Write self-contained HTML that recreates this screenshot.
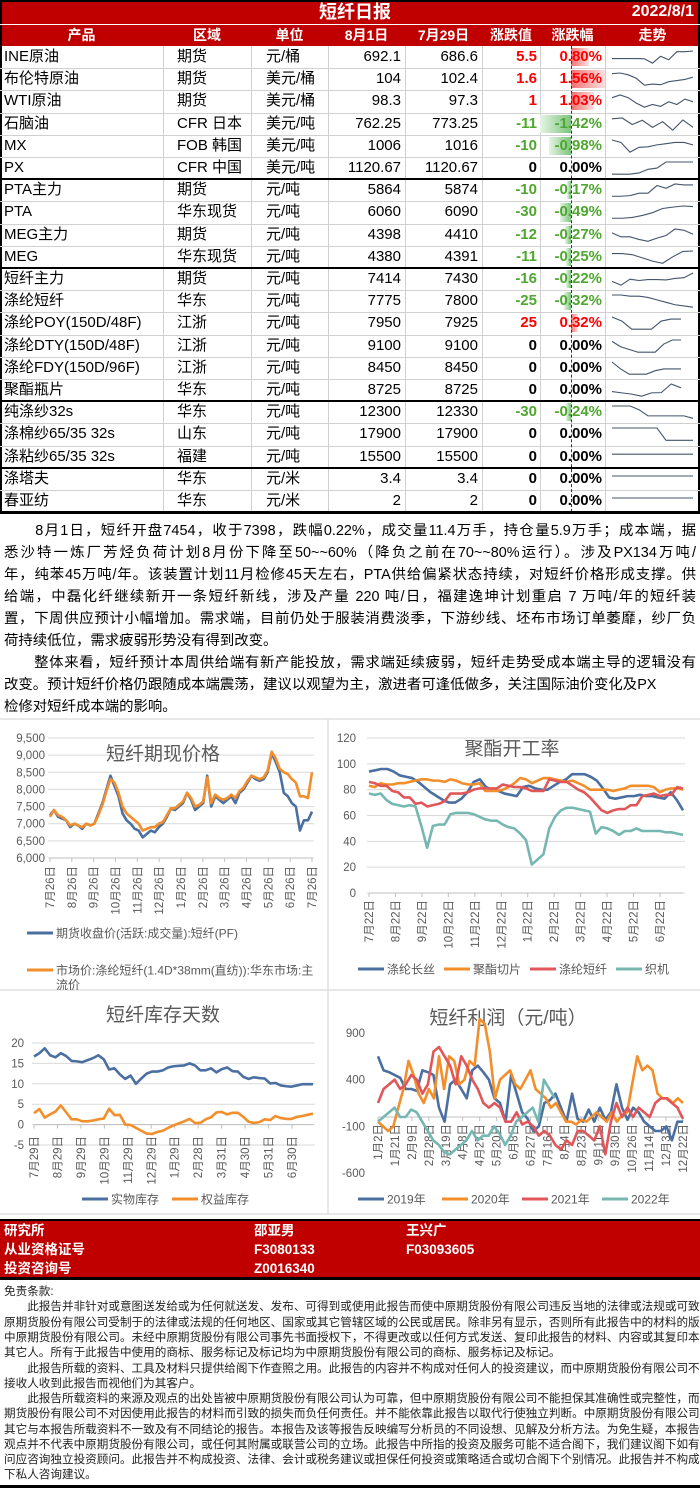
<!DOCTYPE html>
<html><head><meta charset="utf-8">
<style>
*{margin:0;padding:0;box-sizing:border-box}
body{width:700px;height:1488px;position:relative;background:#fff;font-family:"Liberation Sans","Noto Sans CJK SC",sans-serif;overflow:hidden;color:#000}
.abs{position:absolute}
.cell{position:absolute;white-space:nowrap;font-size:15px;line-height:22px}
.hdr{position:absolute;color:#fff;font-weight:bold;font-size:14px;line-height:22px;white-space:nowrap;text-align:center}
.pl{position:absolute;left:4px;width:692px;font-size:14.4px;line-height:22px;white-space:nowrap;text-align:justify;text-align-last:justify;color:#000}
.pl.l{text-align-last:left}
.dl{position:absolute;left:4px;width:692px;font-size:11.6px;line-height:15.25px;white-space:nowrap;text-align:justify;text-align-last:justify;color:#222}
.dl.l{text-align-last:left}
.ft{position:absolute;color:#fff;font-weight:bold;font-size:13.5px;line-height:19px;white-space:nowrap}
</style></head><body>
<div class="abs" style="left:0;top:0;width:700px;height:46px;background:#c00000;border:2px solid #000;border-bottom:none"></div>
<div class="abs" style="left:0;top:1px;width:700px;text-align:center;color:#fff;font-weight:bold;font-size:18px;line-height:22px;padding-left:10px">短纤日报</div>
<div class="abs" style="right:6px;top:1px;color:#fff;font-weight:bold;font-size:16px;line-height:22px">2022/8/1</div>
<div class="abs" style="left:0;top:24px;width:700px;height:1px;background:#fff"></div>
<div id="tbl"></div>

<div>
<div class="pl" style="top:520px">　　8月1日，短纤开盘7454，收于7398，跌幅0.22%，成交量11.4万手，持仓量5.9万手；成本端，据</div>
<div class="pl" style="top:542px">悉沙特一炼厂芳烃负荷计划8月份下降至50~~60%（降负之前在70~~80%运行）。涉及PX134万吨/</div>
<div class="pl" style="top:564px">年，纯苯45万吨/年。该装置计划11月检修45天左右，PTA供给偏紧状态持续，对短纤价格形成支撑。供</div>
<div class="pl" style="top:586px">给端，中磊化纤继续新开一条短纤新线，涉及产量 220 吨/日，福建逸坤计划重启 7 万吨/年的短纤装</div>
<div class="pl" style="top:608px">置，下周供应预计小幅增加。需求端，目前仍处于服装消费淡季，下游纱线、坯布市场订单萎靡，纱厂负</div>
<div class="pl l" style="top:630px">荷持续低位，需求疲弱形势没有得到改变。</div>
<div class="pl" style="top:652px">　　整体来看，短纤预计本周供给端有新产能投放，需求端延续疲弱，短纤走势受成本端主导的逻辑没有</div>
<div class="pl l" style="top:674px">改变。预计短纤价格仍跟随成本端震荡，建议以观望为主，激进者可逢低做多，关注国际油价变化及PX</div>
<div class="pl l" style="top:696px">检修对短纤成本端的影响。</div>
</div>

<svg id="ch" class="abs" style="left:0;top:0" width="700" height="1488"></svg>

<div class="abs" style="left:0;top:1219px;width:700px;height:61px;background:#c00000;border-top:2px solid #000;border-bottom:3px solid #000"></div>
<div class="ft" style="left:4px;top:1221px">研究所</div>
<div class="ft" style="left:254px;top:1221px">邵亚男</div>
<div class="ft" style="left:406px;top:1221px">王兴广</div>
<div class="ft" style="left:4px;top:1240px">从业资格证号</div>
<div class="ft" style="left:254px;top:1240px">F3080133</div>
<div class="ft" style="left:406px;top:1240px">F03093605</div>
<div class="ft" style="left:4px;top:1259px">投资咨询号</div>
<div class="ft" style="left:254px;top:1259px">Z0016340</div>

<div>
<div class="dl l" style="top:1284px">免责条款:</div>
<div class="dl" style="top:1299px">　　此报告并非针对或意图送发给或为任何就送发、发布、可得到或使用此报告而使中原期货股份有限公司违反当地的法律或法规或可致使中</div>
<div class="dl" style="top:1314.5px">原期货股份有限公司受制于的法律或法规的任何地区、国家或其它管辖区域的公民或居民。除非另有显示，否则所有此报告中的材料的版权均属</div>
<div class="dl" style="top:1330px">中原期货股份有限公司。未经中原期货股份有限公司事先书面授权下，不得更改或以任何方式发送、复印此报告的材料、内容或其复印本予任何</div>
<div class="dl l" style="top:1345px">其它人。所有于此报告中使用的商标、服务标记及标记均为中原期货股份有限公司的商标、服务标记及标记。</div>
<div class="dl" style="top:1360.5px">　　此报告所载的资料、工具及材料只提供给阁下作查照之用。此报告的内容并不构成对任何人的投资建议，而中原期货股份有限公司不会因</div>
<div class="dl l" style="top:1375.5px">接收人收到此报告而视他们为其客户。</div>
<div class="dl" style="top:1391px">　　此报告所载资料的来源及观点的出处皆被中原期货股份有限公司认为可靠，但中原期货股份有限公司不能担保其准确性或完整性，而中原</div>
<div class="dl" style="top:1406px">期货股份有限公司不对因使用此报告的材料而引致的损失而负任何责任。并不能依靠此报告以取代行使独立判断。中原期货股份有限公司可发出</div>
<div class="dl" style="top:1421.5px">其它与本报告所载资料不一致及有不同结论的报告。本报告及该等报告反映编写分析员的不同设想、见解及分析方法。为免生疑，本报告所载的</div>
<div class="dl" style="top:1436.5px">观点并不代表中原期货股份有限公司，或任何其附属或联营公司的立场。此报告中所指的投资及服务可能不适合阁下，我们建议阁下如有任何疑</div>
<div class="dl" style="top:1452px">问应咨询独立投资顾问。此报告并不构成投资、法律、会计或税务建议或担保任何投资或策略适合或切合阁下个别情况。此报告并不构成给予阁</div>
<div class="dl l" style="top:1467px">下私人咨询建议。</div>
</div>
<div class="abs" style="left:0;top:1485px;width:700px;height:3px;background:#000"></div>

<script>
// ---------- table data ----------
const products=["INE原油","布伦特原油","WTI原油","石脑油","MX","PX","PTA主力","PTA","MEG主力","MEG","短纤主力","涤纶短纤","涤纶POY(150D/48F)","涤纶DTY(150D/48F)","涤纶FDY(150D/96F)","聚酯瓶片","纯涤纱32s","涤棉纱65/35 32s","涤粘纱65/35 32s","涤塔夫","春亚纺"];
const regions=["期货","期货","期货","CFR 日本","FOB 韩国","CFR 中国","期货","华东现货","期货","华东现货","期货","华东","江浙","江浙","江浙","华东","华东","山东","福建","华东","华东"];
const units=["元/桶","美元/桶","美元/桶","美元/吨","美元/吨","美元/吨","元/吨","元/吨","元/吨","元/吨","元/吨","元/吨","元/吨","元/吨","元/吨","元/吨","元/吨","元/吨","元/吨","元/米","元/米"];
const todayVals=["692.1","104","98.3","762.25","1006","1120.67","5864","6060","4398","4380","7414","7775","7950","9100","8450","8725","12300","17900","15500","3.4","2"];
const prevVals=["686.6","102.4","97.3","773.25","1016","1120.67","5874","6090","4410","4391","7430","7800","7925","9100","8450","8725","12330","17900","15500","3.4","2"];
const changes=[5.5,1.6,1,-11,-10,0,-10,-30,-12,-11,-16,-25,25,0,0,0,-30,0,0,0,0];
const pcts=[0.80,1.56,1.03,-1.42,-0.98,0,-0.17,-0.49,-0.27,-0.25,-0.22,-0.32,0.32,0,0,0,-0.24,0,0,0,0];
const sparks=[
[5,5,5,5,4.9,3,6,4.5,8,8,8.3],
[8,8.3,7.5,6,3,3.5,3.2,4.5,5,5.5,6.5],
[6,7,6,4,2.5,3.5,2.8,4.5,3.5,5.5,4.5],
[6,6.3,4,5.5,3,5,2,5.6,3],
[7,6,2,4,4.2,5,5.5,6,6,5],
[1,1,1,1.5,3,3.5,6,6,6,6],
[2,2,2.2,3,3,5.5,4.6,6,5.7,5.7],
[2,2,2.3,3,4,5.5,6,6.4,6.2],
[5,3.5,3.5,2.5,1.8,3,4,6.5,6,4.5],
[6,6,5.5,4,2.5,1.5,4.5,7,7.2],
[4,2,5.2,4.5,5,5,4.8,5.6,6,8.5],
[7,7,6.5,6.5,6,5,4,3,2.5,2],
[6,5,3,3,3,5,5.5,5.5],
[6,4,3,2,2,2,5,6.5,6.5],
[6,4,2.5,2.5,2.5,3.5,4,4,4],
[4,3.5,3,2.2,3.5,3.6,7,5.5],
[7,7,7,5.5,3,3,3,3,3,2],
[7,7,7,7,7,7,2,2,2,2],
[5,5,5,5,5,5,5,5,5,5],
[5,5,5,5,5,5,5,5,5,5],
[5,5,5,5,5,5,5,5,5,5]];
const groups=[[46,179,6],[179,268,4],[268,401,6],[401,468,3],[468,512,2]];

const headers=["产品","区域","单位","8月1日","7月29日","涨跌值","涨跌幅","走势"];
const colX=[0,163,251,328,405,482,540,605,700];
const tbl=document.getElementById('tbl');
function div(css,txt){const d=document.createElement('div');d.style.cssText=css;if(txt!==undefined)d.textContent=txt;tbl.appendChild(d);return d;}
headers.forEach((h,i)=>{
  const d=div(`left:${colX[i]}px;top:24px;width:${colX[i+1]-colX[i]}px;`,h);
  d.className='hdr';
  
  
});
// body background borders
const bg=div('position:absolute;left:0;top:46px;width:700px;height:468px;border-left:2px solid #000;border-right:2px solid #000;');


for(let c=1;c<8;c++){
  const v=div(`position:absolute;left:${colX[c]}px;top:46px;width:1px;height:466px;background:#d0d0d0`);
  
  
}
const dash=div('position:absolute;left:571px;top:46px;width:0;height:466px;border-left:1px dashed #333;z-index:2');


let r=0;
groups.forEach(([y0,y1,n],gi)=>{
  const h=(y1-y0)/n;
  const gl=div(`position:absolute;left:0;top:${y1-1}px;width:700px;height:${gi==4?3:2}px;background:#000;z-index:3`);
  
  
  for(let k=0;k<n;k++,r++){
    const top=y0+k*h;
    if(k>0){const hl=div(`position:absolute;left:0;top:${top}px;width:700px;height:1px;background:#d0d0d0`);
      
      }
    const row=div(`position:absolute;left:0;top:${top}px;width:700px;height:${h}px`);
    
    
    const p=pcts[r];
    if(p!==0){
      const w=Math.abs(p)*22;
      const bar=document.createElement('div');
      bar.style.cssText=p>0?`position:absolute;left:571px;top:2px;width:${w}px;height:${h-4}px;background:linear-gradient(to right,#f07070,#fde0e0)`:`position:absolute;left:${571-w}px;top:2px;width:${w}px;height:${h-4}px;background:linear-gradient(to left,#7bc47b,#e5f4e5)`;
      
      
      row.appendChild(bar);
    }
    const col=changes[r]>0?'#ff0000':(changes[r]<0?'#4ea72e':'#000');
    const cells=[
      [`left:4px;`,products[r],''],
      [`left:177px;`,regions[r],''],
      [`left:266px;`,units[r],''],
      [`right:${700-401}px;`,todayVals[r],''],
      [`right:${700-478}px;`,prevVals[r],''],
      [`right:${700-537}px;font-weight:bold;color:${col};`,String(changes[r]),''],
      [`right:${700-602}px;font-weight:bold;color:${col};`,p.toFixed(2)+'%','']];
    const names=['product','region','unit','value-today','value-prev','change','change-pct'];
    cells.forEach((c,ci)=>{
      const e=document.createElement('div');
      e.className='cell';
      e.style.cssText=c[0]+`top:${(h-22)/2}px;z-index:3`;
      e.textContent=c[1];
      
      
      row.appendChild(e);
    });
    // sparkline
    const s=sparks[r];const mn=Math.min(...s),mx=Math.max(...s);
    const ns='http://www.w3.org/2000/svg';
    const sv=document.createElementNS(ns,'svg');
    sv.setAttribute('width','90');sv.setAttribute('height',String(h));
    sv.style.cssText='position:absolute;left:609px;top:0';
    
    
    const pl=document.createElementNS(ns,'polyline');
    const end=(r>=12&&r<=15)?72:84;
    pl.setAttribute('points',s.map((v,i)=>`${3+(end-3)*i/(s.length-1)},${mx==mn?h/2-3:h-5-(h-10)*(v-mn)/(mx-mn)}`).join(' '));
    pl.setAttribute('fill','none');pl.setAttribute('stroke','#44546a');pl.setAttribute('stroke-width','1.1');
    
    
    sv.appendChild(pl);row.appendChild(sv);
  }
});

// ---------- chart data ----------
const pfFutures=[7250,7400,7200,7150,7100,6900,7000,6950,6850,7000,6950,7000,7300,7600,8000,8400,8100,7800,7300,7100,7000,6850,6800,6600,6700,6800,6750,6900,7000,7200,7450,7400,7500,7600,7900,7700,7400,7500,7600,8400,7500,7800,7700,7600,7700,7800,7600,7900,8000,8200,8400,8300,8250,8300,8500,9050,8800,8500,7900,7800,7600,7500,6800,7100,7100,7350];
const pfSpot=[7200,7400,7250,7200,7100,6950,7000,6950,6900,7000,6950,7000,7250,7550,7950,8300,8200,7900,7500,7300,7200,7100,7000,6800,6850,6900,6900,7000,7050,7250,7450,7450,7550,7650,7900,7750,7500,7550,7650,8350,7600,7850,7750,7700,7750,7850,7750,7950,8050,8250,8400,8350,8300,8350,8550,9100,8900,8600,8500,8450,8300,8200,7800,7800,7750,8500];
const pfTicks=[9500,9000,8500,8000,7500,7000,6500,6000];
const pfLabels=["7月26日","8月26日","9月26日","10月26日","11月26日","12月26日","1月26日","2月26日","3月26日","4月26日","5月26日","6月26日","7月26日"];

const opFilament=[94,95,96,96,94,91,90,89,86,82,78,75,72,70,70,73,78,86,88,82,80,79,77,76,75,82,83,81,80,80,83,86,88,92,92,92,90,87,81,74,73,74,75,75,76,75,75,74,73,78,72,64];
const opChip=[83,82,85,84,84,85,85,86,87,88,88,87,87,86,88,87,85,84,84,85,79,79,79,80,82,85,89,88,85,87,89,89,88,87,86,87,85,83,80,80,80,80,79,80,81,83,83,83,83,82,78,80,81,81,80];
const opStaple=[86,85,83,83,79,78,74,74,69,70,67,68,69,71,77,77,77,78,80,81,81,81,81,84,83,82,82,81,79,79,79,88,87,86,86,83,80,78,74,69,64,62,64,65,65,68,68,75,76,77,75,76,76,82,81];
const opLoom=[77,76,77,72,69,68,67,68,67,52,35,52,53,53,61,62,62,62,61,59,57,56,56,53,51,50,46,41,22,26,30,50,59,64,66,66,65,64,63,46,51,50,48,45,48,48,50,48,48,48,48,47,47,46,45];
const opTicks=[120,100,80,60,40,20,0];
const opLabels=["7月22日","8月22日","9月22日","10月22日","11月22日","12月22日","1月22日","2月22日","3月22日","4月22日","5月22日","6月22日"];

const invPhysical=[16.7,17.5,18.7,17,16.5,17.5,16.8,15.6,15.5,15.3,15.8,16.3,17,16,13.5,13.8,12.3,11.2,12,10,11.3,12.5,13,13,13.3,14,14.3,14.4,14.5,15,14.5,13.3,13.3,13.8,12.8,13.6,14,13.1,13,11.7,11.2,11.6,11.4,11.3,10.1,10.2,9.6,9.4,9.3,9.6,9.9,9.9,9.9];
const invEquity=[2.8,3.8,1.7,2.5,3.2,4.7,3,1.3,1.3,0.8,0.8,1,1.3,1.5,3.9,2.3,2.4,0,-0.1,-0.8,-1.5,-2.2,-2.3,-1.8,-1.5,-0.8,-0.2,0.3,0.8,1.4,0.4,0.4,1.3,1.8,3,3.1,2.5,2.9,2.9,1.9,0.7,0.4,0.6,1.3,1.1,2.1,1.6,1.4,1.4,1.9,2.1,2.4,2.7];
const invTicks=[20,15,10,5,0,-5];
const invLabels=["7月29日","8月29日","9月29日","10月29日","11月29日","12月29日","1月29日","2月28日","3月31日","4月30日","5月31日","6月30日"];

const pr2019=[650,500,480,450,420,300,300,280,500,480,450,100,-50,350,400,300,200,500,550,480,400,200,150,-50,450,250,50,-20,-150,-100,150,180,250,100,-50,250,-20,-50,80,-50,100,-30,50,350,100,-30,100,50,-50,-100,-150,-150,-100,-250,-50,-50];
const pr2020=[-50,-100,-150,-100,100,300,600,450,250,150,300,200,650,300,650,600,350,400,600,550,1050,1000,700,200,400,450,500,350,300,400,500,300,250,200,100,150,50,-50,-50,-80,-30,-50,0,50,0,-50,50,-50,20,50,350,650,500,550,500,250,200,200,150,200,150];
const pr2021=[150,300,350,400,300,350,450,400,250,350,700,750,650,550,350,650,550,400,300,150,100,150,100,-50,-50,50,-80,-50,-100,-200,-150,-200,-300,-350,-250,-300,-150,-150,-200,-250,-100,-400,-50,150,0,100,0,100,50,0,150,200,200,150,100,-20];
const pr2022=[-50,0,50,100,0,0,80,50,-50,-150,-250,-300,-380,-400,-350,-300,-250,-150,-250,-200,-200,-100,-180,-300,-200,-50,0,50,100,-50,400,300,200];
const prTicks=[900,400,-100,-600];
const prLabels=["1月2日","1月21日","2月9日","2月28日","3月19日","4月8日","4月27日","5月20日","6月8日","6月27日","7月16日","8月4日","8月23日","9月11日","9月30日","10月26日","11月14日","12月3日","12月22日"];

const NS='http://www.w3.org/2000/svg';
const svg=document.getElementById('ch');
function el(tag,attrs,txt){const e=document.createElementNS(NS,tag);for(const k in attrs)e.setAttribute(k,attrs[k]);if(txt!==undefined)e.textContent=txt;svg.appendChild(e);return e;}
const GRAY='#595959',FONT='"Liberation Sans","Noto Sans CJK SC",sans-serif';
function yS(v,c){return c.y0+(c.y1-c.y0)*(c.vmax-v)/(c.vmax-c.vmin);}
function xS(i,n,c,frac){return c.x0+(c.x1-c.x0)*(frac||1)*i/(n-1);}
function series(data,c,color,name,frac){
  const p=el('polyline',{points:data.map((v,i)=>xS(i,data.length,c,frac)+','+yS(v,c)).join(' '),fill:'none',stroke:color,'stroke-width':2.6,'stroke-linejoin':'round'});
  
  
}
function yAxis(ticks,c,tx,grid,fmt){
  ticks.forEach(t=>{
    if(grid){const g=el('line',{x1:c.x0-2,x2:c.x1+2,y1:yS(t,c),y2:yS(t,c),stroke:'#d9d9d9','stroke-width':1});
      
      }
    const l=el('text',{x:tx,y:yS(t,c)+4,'text-anchor':'end','font-size':11.5,fill:GRAY,'font-family':FONT},fmt?fmt(t):String(t));
    
    
  });
}
function xAxis(labels,c,axisV,labelTop,lx0,lx1){
  const ay=yS(axisV,c);
  const a=el('line',{x1:c.x0,x2:c.x1,y1:ay,y2:ay,stroke:'#bfbfbf','stroke-width':1});
  
  
  labels.forEach((t,i)=>{
    const x=lx0+(lx1-lx0)*i/(labels.length-1);
    const tk=el('line',{x1:x,x2:x,y1:ay,y2:ay+4,stroke:'#bfbfbf'});
    
    
    const l=el('text',{x:0,y:0,transform:`translate(${x+4},${labelTop}) rotate(-90)`,'text-anchor':'end','font-size':11.5,fill:GRAY,'font-family':FONT},t);
    
    
  });
}
function title(x,y,t,fs){const e=el('text',{x:x,y:y,'text-anchor':'middle','font-size':fs||19,fill:GRAY,'font-family':FONT},t);
  
  }
function legend(x,y,color,t){
  const l=el('line',{x1:x,x2:x+26,y1:y,y2:y,stroke:color,'stroke-width':3});
  
  
  const tx=el('text',{x:x+29,y:y+4.5,'font-size':12,fill:GRAY,'font-family':FONT},t);
  
  
}
// panel borders
[[0,719,700,0],[0,990,700,0],[0,1214,700,0],[328,719,0,271],[328,990,0,224]].forEach(b=>{
  const e=el('line',{x1:b[0],y1:b[1],x2:b[0]+b[2],y2:b[1]+b[3],stroke:'#d9d9d9','stroke-width':1.2});
  
  
});

// chart 1
const c1={x0:50,x1:312,y0:738,y1:858,vmax:9500,vmin:6000};
yAxis(pfTicks,c1,45,true,t=>t.toLocaleString('en-US'));
xAxis(pfLabels,c1,6000,866,50,312);
title(163,760,'短纤期现价格');
series(pfFutures,c1,'#4a6fa0','series-futures-close');
series(pfSpot,c1,'#f28e2b','series-spot-price');
legend(27,933,'#4a6fa0','期货收盘价(活跃:成交量):短纤(PF)');
legend(27,970,'#f28e2b','市场价:涤纶短纤(1.4D*38mm(直纺)):华东市场:主');
{const e=el('text',{x:56,y:989,'font-size':12,fill:GRAY,'font-family':FONT},'流价');}

// chart 2
const c2={x0:369,x1:683,y0:738,y1:893,vmax:120,vmin:0};
yAxis(opTicks,c2,356,true);
xAxis(opLabels,c2,0,900,369,660);
title(512,755,'聚酯开工率');
series(opFilament,c2,'#4a6fa0','series-filament');
series(opChip,c2,'#f28e2b','series-chip');
series(opStaple,c2,'#e15759','series-staple');
series(opLoom,c2,'#76b7b2','series-loom');
legend(358,969,'#4a6fa0','涤纶长丝');
legend(444,969,'#f28e2b','聚酯切片');
legend(530,969,'#e15759','涤纶短纤');
legend(616,969,'#76b7b2','织机');

// chart 3
const c3={x0:34,x1:313,y0:1043,y1:1145,vmax:20,vmin:-5};
yAxis(invTicks,c3,24,true);
xAxis(invLabels,c3,0,1136,34,292);
title(163,1021,'短纤库存天数');
series(invPhysical,c3,'#4a6fa0','series-physical-inventory');
series(invEquity,c3,'#f28e2b','series-equity-inventory');
legend(82,1199,'#4a6fa0','实物库存');
legend(172,1199,'#f28e2b','权益库存');

// chart 4
const c4={x0:378,x1:683,y0:1033,y1:1173,vmax:900,vmin:-600};
yAxis(prTicks,c4,365,false);
xAxis(prLabels,c4,0,1124,378,683);
title(508,1024,'短纤利润（元/吨）');
series(pr2019,c4,'#4a6fa0','series-2019');
series(pr2020,c4,'#f28e2b','series-2020');
series(pr2021,c4,'#e15759','series-2021');
series(pr2022,c4,'#76b7b2','series-2022',0.58);
legend(358,1199,'#4a6fa0','2019年');
legend(442,1199,'#f28e2b','2020年');
legend(522,1199,'#e15759','2021年');
legend(602,1199,'#76b7b2','2022年');
</script>
</body></html>
